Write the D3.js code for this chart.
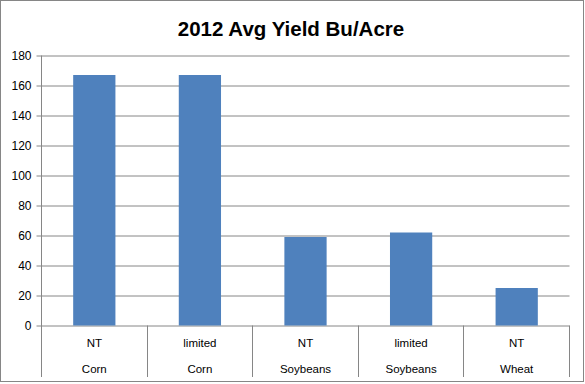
<html>
<head>
<meta charset="utf-8">
<script src="https://d3js.org/d3.v7.min.js"></script>
<style>
  body { margin: 0; background: #fff; }
  text { font-family: "Liberation Sans", Arial, sans-serif; fill: #000; }
</style>
</head>
<body>
<div class="chart"></div>
<script>
    // values
    const practices = ["NT", "limited", "NT", "limited", "NT"];
    const crops = ["Corn", "Corn", "Soybeans", "Soybeans", "Wheat"];
    const yields = [167, 167, 59, 62, 25];
    const yTicks = [0, 20, 40, 60, 80, 100, 120, 140, 160, 180];

    const W = 585, H = 384;
    const plotLeft = 41.5, plotRight = 569.5, plotTop = 55.5, plotBottom = 325.5, catBottom = 377;
    const grey = "#868686";

    const svg = d3.select('.chart')
        .append('svg')
        .attr('width', W)
        .attr('height', H);

    // outer border
    svg.append('rect')
        .attr('x', 0.5).attr('y', 0.5)
        .attr('width', 583).attr('height', 381)
        .attr('fill', '#fff')
        .attr('stroke', grey);

    svg.append('text')
        .attr('x', 291).attr('y', 36)
        .attr('text-anchor', 'middle')
        .style('font-size', '20.5px')
        .style('font-weight', 'bold')
        .text('2012 Avg Yield Bu/Acre');

    const idx = d3.range(yields.length);

    const xScale = d3.scaleBand()
        .domain(idx)
        .range([plotLeft, plotRight])
        .paddingInner(0.6)
        .paddingOuter(0.3);

    const yScale = d3.scaleLinear()
        .domain([0, 180])
        .range([plotBottom, plotTop]);

    // gridlines + y axis
    const yAxis = d3.axisLeft(yScale)
        .tickValues(yTicks)
        .tickSize(-(plotRight - plotLeft))
        .tickPadding(10)
        .tickSizeOuter(0);

    const yAxisGroup = svg.append('g')
        .attr('transform', `translate(${plotLeft},0)`)
        .call(yAxis);
    yAxisGroup.select('.domain').remove();
    yAxisGroup.selectAll('.tick line')
        .attr('x1', -5)
        .attr('stroke', grey);
    yAxisGroup.selectAll('.tick text')
        .attr('x', -10)
        .style('font-size', '12px')
        .style('font-family', '"Liberation Sans", Arial, sans-serif');

    // bars
    svg.selectAll('.bar')
        .data(idx)
        .join('rect')
        .attr('class', 'bar')
        .attr('x', d => xScale(d))
        .attr('width', xScale.bandwidth())
        .attr('y', d => yScale(yields[d]))
        .attr('height', d => yScale(0) - yScale(yields[d]))
        .attr('fill', '#4F81BD');

    // axis lines
    svg.append('line')
        .attr('x1', plotLeft).attr('x2', plotLeft)
        .attr('y1', plotTop).attr('y2', catBottom)
        .attr('stroke', grey);

    const gap = (xScale.step() - xScale.bandwidth()) / 2;
    const edges = idx.map(d => xScale(d) - gap + xScale.step()).map(v => Math.round(v - 0.5) + 0.5);
    svg.selectAll('.divider')
        .data(edges)
        .join('line')
        .attr('class', 'divider')
        .attr('x1', d => d).attr('x2', d => d)
        .attr('y1', plotBottom).attr('y2', catBottom)
        .attr('stroke', grey);

    // category labels (two levels)
    svg.selectAll('.lab1')
        .data(idx)
        .join('text')
        .attr('class', 'lab1')
        .attr('x', d => xScale(d) + xScale.bandwidth() / 2)
        .attr('y', 347)
        .attr('text-anchor', 'middle')
        .style('font-size', '11.5px')
        .text(d => practices[d]);

    svg.selectAll('.lab2')
        .data(idx)
        .join('text')
        .attr('class', 'lab2')
        .attr('x', d => xScale(d) + xScale.bandwidth() / 2)
        .attr('y', 373)
        .attr('text-anchor', 'middle')
        .style('font-size', '11.5px')
        .text(d => crops[d]);
</script>
</body>
</html>
